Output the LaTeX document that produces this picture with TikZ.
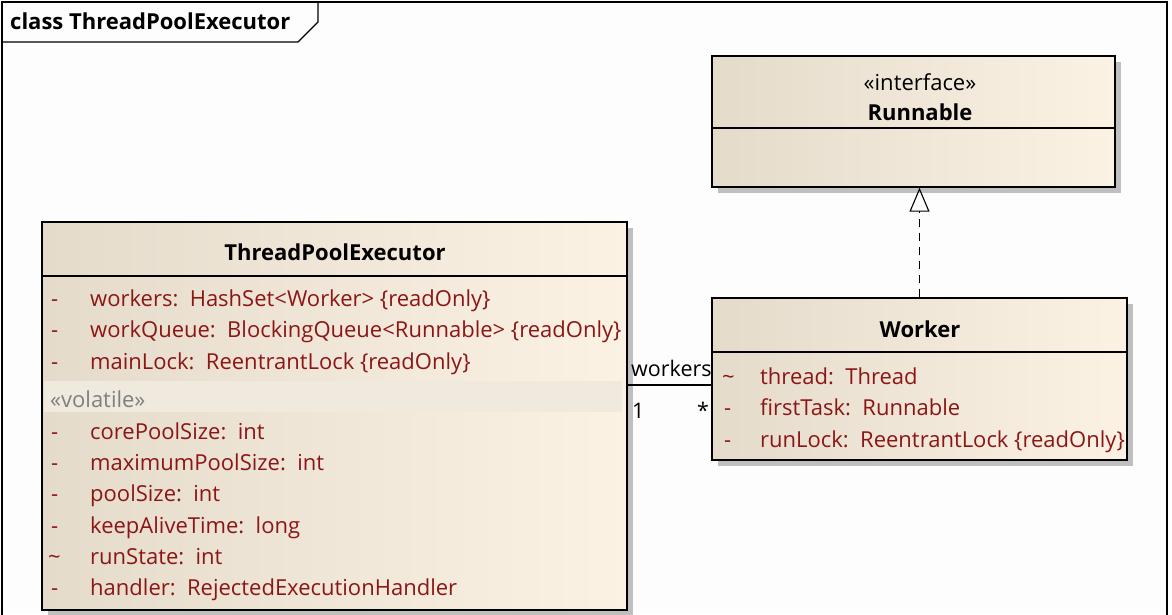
\documentclass[tikz,border=0pt]{standalone}
\usepackage{fontspec}
\setmainfont{Open Sans}
\usetikzlibrary{shadows,arrows.meta}
\definecolor{boxl}{RGB}{228,219,203}
\definecolor{boxr}{RGB}{251,242,228}
\definecolor{attr}{RGB}{140,22,22}
\definecolor{frameBg}{RGB}{253,253,253}
\definecolor{volband}{RGB}{239,233,222}
\tikzset{
  classbox/.style={draw=black, line width=1.3pt, left color=boxl, right color=boxr, inner sep=0pt,
    drop shadow={shadow xshift=6pt, shadow yshift=-6pt, fill=black!25, opacity=1}},
  attrtxt/.style={anchor=base west, inner sep=0pt, text=attr, font=\fontsize{22}{26}\selectfont},
  titletxt/.style={anchor=base, inner sep=0pt, font=\fontsize{22}{26}\selectfont\bfseries},
  plaintxt/.style={anchor=base west, inner sep=0pt, font=\fontsize{21.5}{26}\selectfont},
  divider/.style={line width=1.2pt}
}
\begin{document}
\begin{tikzpicture}[x=1pt,y=-1pt]
\useasboundingbox (0,0) rectangle (1172,614);
\fill[white] (0,0) rectangle (1172,614);
% frame
\fill[frameBg] (2,2) rectangle (1167,614);
\draw[line width=1.3pt] (2,616) -- (2,2) -- (1167,2) -- (1167,616);
\draw[line width=1.3pt] (2,42) -- (298,42) -- (318,22) -- (318,2);
\node[anchor=base west, inner sep=0pt, font=\fontsize{22}{26}\selectfont\bfseries] (frametitle) at (10,29) {class ThreadPoolExecutor};
% Runnable
\node[classbox, minimum width=403pt, minimum height=131pt] (runnable) at (913.5,121.5) {};
\draw[divider] (712,128) -- (1115,128);
\node[anchor=base, inner sep=0pt, font=\fontsize{22}{26}\selectfont] (stereo) at (920,90) {«interface»};
\node[titletxt] (rname) at (920,120) {Runnable};
% Worker
\node[classbox, minimum width=415pt, minimum height=162pt] (worker) at (919.5,379) {};
\draw[divider] (712,352) -- (1127,352);
\node[titletxt] (wname) at (920,337) {Worker};
\node[attrtxt] (w1m) at (722,384) {\textasciitilde};
\node[attrtxt] (w1) at (760,384) {thread:\ \ Thread};
\node[attrtxt] (w2m) at (724,415) {-};
\node[attrtxt] (w2) at (760,415) {firstTask:\ \ Runnable};
\node[attrtxt] (w3m) at (724,447) {-};
\node[attrtxt] (w3) at (760,447) {runLock:\ \ ReentrantLock \{readOnly\}};
% ThreadPoolExecutor
\node[classbox, minimum width=585pt, minimum height=388pt] (tpe) at (334.5,416) {};
\draw[divider] (42,276) -- (627,276);
\node[titletxt] (tname) at (335,260) {ThreadPoolExecutor};
\fill[volband] (44,381) rectangle (622,412);
\node[anchor=base west, inner sep=0pt, text=black!50, font=\fontsize{22}{26}\selectfont] (vol) at (50,407) {«volatile»};
\foreach \i/\m/\t/\y in {a/-/{workers:\ \ HashSet<Worker> \{readOnly\}}/306,
                        b/-/{workQueue:\ \ BlockingQueue<Runnable> \{readOnly\}}/337,
                        c/-/{mainLock:\ \ ReentrantLock \{readOnly\}}/369,
                        d/-/{corePoolSize:\ \ int}/439,
                        e/-/{maximumPoolSize:\ \ int}/470,
                        f/-/{poolSize:\ \ int}/501,
                        g/-/{keepAliveTime:\ \ long}/533,
                        i/-/{handler:\ \ RejectedExecutionHandler}/595}{
  \node[attrtxt] (m\i) at (51,\y) {\m};
  \node[attrtxt] (t\i) at (90,\y) {\t};
}
\node[attrtxt] (mh) at (48,564) {\textasciitilde};
\node[attrtxt] (th) at (90,564) {runState:\ \ int};
% association
\coordinate (assoc) at ([yshift=-6pt]worker.west);
\draw[line width=1.1pt] (assoc -| tpe.east) -- (assoc);
\node[plaintxt] (lworkers) at (631,376) {workers};
\node[plaintxt] (lone) at (632,418) {1};
\node[plaintxt] (lstar) at (697,418) {*};
% realization
\draw[line width=1.1pt, dash pattern=on 8pt off 6pt, -{Triangle[open, length=24pt, width=20pt, line width=1.1pt]}] (worker.north) -- (worker.north |- runnable.south);
\end{tikzpicture}
\end{document}
